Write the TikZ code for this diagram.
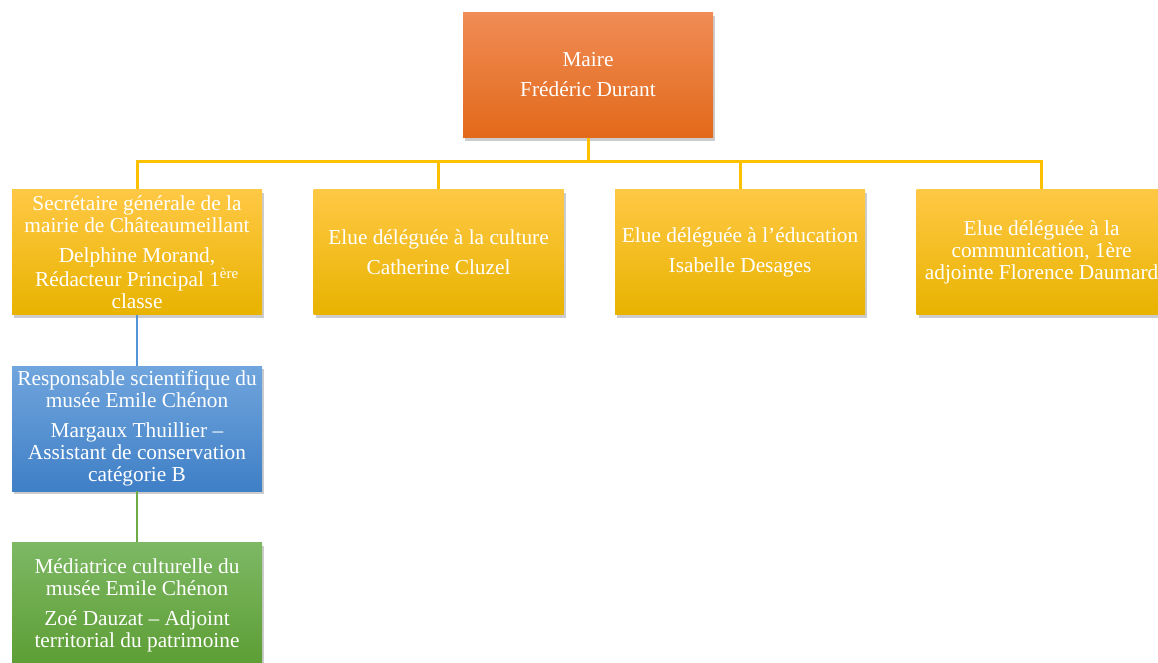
\documentclass[tikz,border=0pt]{standalone}
\usepackage{fontspec}
\setmainfont{Liberation Serif}
\usetikzlibrary{positioning, shadows}

\definecolor{maireTop}{HTML}{F08C55}
\definecolor{maireMid}{HTML}{F47A26}
\definecolor{maireBot}{HTML}{E2691A}
\definecolor{jauneTop}{HTML}{FFC845}
\definecolor{jauneMid}{HTML}{FFC000}
\definecolor{jauneBot}{HTML}{E8B300}
\definecolor{bleuTop}{HTML}{70A5DD}
\definecolor{bleuMid}{HTML}{5594D6}
\definecolor{bleuBot}{HTML}{3F7FC6}
\definecolor{vertTop}{HTML}{7DB864}
\definecolor{vertMid}{HTML}{6CAB45}
\definecolor{vertBot}{HTML}{5C9D33}

\begin{document}
\begin{tikzpicture}[x=0.75pt, y=-0.75pt, node distance=38.25pt and 38.25pt,
        every node/.style={rectangle, minimum width=187.5pt, minimum height=93.75pt, inner sep=0pt,
                text=white, align=center, font=\fontsize{16}{16.5}\selectfont,
                drop shadow={opacity=0.4, shadow xshift=1.5pt, shadow yshift=-2.5pt}},
        maire/.style={top color=maireTop, middle color=maireMid, bottom color=maireBot},
        elue/.style={top color=jauneTop, middle color=jauneMid, bottom color=jauneBot},
        musee/.style={top color=bleuTop, middle color=bleuMid, bottom color=bleuBot},
        mediation/.style={top color=vertTop, middle color=vertMid, bottom color=vertBot},
        bus/.style={draw=jauneMid, line width=2.25pt},
        lienBleu/.style={draw=bleuMid, line width=1.3pt},
        lienVert/.style={draw=vertMid, line width=1.3pt}]
        \clip (0,0) rectangle (1158,663);

        % Nodes
        \node[maire] (maire) at (588,75) {Maire\\[6pt]Frédéric Durant};
        \node[elue] (sec) at (137,252) {Secrétaire générale de la\\mairie de Châteaumeillant\\[6pt]Delphine Morand,\\Rédacteur Principal 1\textsuperscript{ère}\\classe};
        \node[elue] (cult) [right=of sec] {Elue déléguée à la culture\\[6pt]Catherine Cluzel};
        \node[elue] (edu) [right=of cult] {Elue déléguée à l’éducation\\[6pt]Isabelle Desages};
        \node[elue] (com) [right=of edu] {Elue déléguée à la\\communication, 1ère\\adjointe Florence Daumard};
        \node[musee] (resp) [below=of sec] {Responsable scientifique du\\musée Emile Chénon\\[6pt]Margaux Thuillier –\\Assistant de conservation\\catégorie B};
        \node[mediation] (medi) [below=of resp] {Médiatrice culturelle du\\musée Emile Chénon\\[6pt]Zoé Dauzat – Adjoint\\territorial du patrimoine};
        \coordinate (hub) at (588,162);

        % Edges
        \draw[bus] (maire.south) -- (hub);
        \foreach \n in {sec, cult, edu, com} {
                \draw[bus] (hub) -| (\n.north);
        }
        \draw[lienBleu] (sec.south) -- (resp.north);
        \draw[lienVert] (resp.south) -- (medi.north);
\end{tikzpicture}
\end{document}
